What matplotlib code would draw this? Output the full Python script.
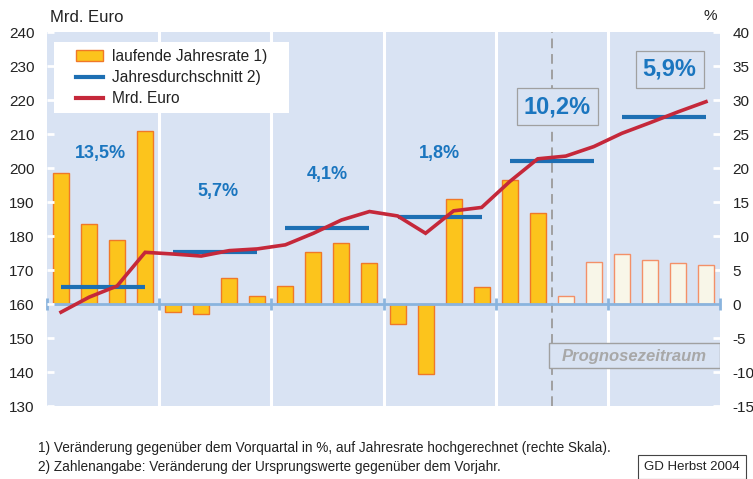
import matplotlib.pyplot as plt
import numpy as np
from matplotlib.patches import Patch, Rectangle
from matplotlib.lines import Line2D

plt.rcParams['font.family'] = ['Liberation Sans', 'DejaVu Sans']
plt.rcParams['axes.unicode_minus'] = False

# Data
years = ['2000', '2001', '2002', '2003', '2004', '2005']
# laufende Jahresrate (%), quarterly, right scale
rate = [19.2, 11.7, 9.4, 25.4,
        -1.2, -1.4, 3.8, 1.2,
        2.6, 7.7, 8.9, 6.0,
        -2.9, -10.3, 15.4, 2.5,
        18.2, 13.4, 1.2, 6.2,
        7.3, 6.5, 6.1, 5.7]
# Mrd. Euro, quarterly, left scale
level = [157.6, 162.0, 165.3, 175.2,
         174.7, 174.1, 175.7, 176.2,
         177.4, 180.8, 184.7, 187.2,
         185.9, 180.8, 187.4, 188.4,
         196.0, 202.7, 203.5, 206.3,
         210.2, 213.3, 216.5, 219.5]
# Jahresdurchschnitt (Mrd. Euro)
avg = [165.1, 175.2, 182.4, 185.6, 202.1, 214.9]
growth = ['13,5%', '5,7%', '4,1%', '1,8%', '10,2%', '5,9%']
n_actual = 18  # quarters with actual values, rest is forecast

bg = '#d9e3f3'
bar_fill = '#fcc41c'
bar_edge = '#f07828'
fc_fill = '#f8f6e8'
fc_edge = '#f39068'
red = '#c5283a'
blue = '#1d6fb3'
txt_blue = '#1b76bf'

fig = plt.figure(figsize=(7.53, 4.79), dpi=100)
ax = fig.add_axes([47 / 753, 1 - 406 / 479, 673 / 753, 374 / 479])
ax2 = ax.twinx()

ax.set_facecolor(bg)
for a in (ax, ax2):
    for s in a.spines.values():
        s.set_visible(False)

nq = len(rate)
xq = np.arange(nq) + 0.5
ax.set_xlim(0, nq)
ax.set_ylim(-15, 40)
ax2.set_ylim(130, 240)

# year separators
for b in range(4, nq, 4):
    ax.axvline(b, color='white', lw=2.2, zorder=1)

# forecast dashed line
ax.axvline(n_actual, color='#a0a0a0', lw=1.4, ls=(0, (5, 3)), zorder=1.5)

# bars
fills = [bar_fill if i < n_actual else fc_fill for i in range(nq)]
edges = [bar_edge if i < n_actual else fc_edge for i in range(nq)]
ax.bar(xq, rate, width=0.57, color=fills, edgecolor=edges, lw=1.0, zorder=3)

# zero line with year marks
ax.axhline(0, color='#8ab4de', lw=2, zorder=4)
bounds = np.arange(0, nq + 1, 4)
ax.plot(bounds, np.zeros(len(bounds)), ls='none', marker='|', ms=8, mew=2,
        color='#8ab4de', zorder=4, clip_on=False)

# Prognosezeitraum box
ax.add_patch(Rectangle(((549 - 47) / 673, (406 - 368) / 374), (720 - 549) / 673, 25 / 374,
                       transform=ax.transAxes, facecolor=bg, edgecolor='#a0a0a0',
                       lw=1.0, zorder=5))
ax.text((634 - 47) / 673, (406 - 356) / 374, 'Prognosezeitraum', transform=ax.transAxes,
        ha='center', va='center', fontsize=12, fontweight='bold', style='italic',
        color='#a8a8a8', zorder=6)

# line + annual averages on left scale
for i in range(len(years)):
    ax2.hlines(avg[i], 4 * i + 0.5, 4 * i + 3.5, color=blue, lw=3, zorder=5)
ax2.plot(xq, level, color=red, lw=2.6, zorder=6, solid_joinstyle='miter')

# growth labels
lab_pos = [(1.9, 204.4), (6.1, 193.0), (10.0, 198.0), (14.0, 204.4), (18.2, 218.0), (22.2, 229.0)]
for i, (g, (x, y)) in enumerate(zip(growth, lab_pos)):
    if i >= 4:
        ax2.text(x, y, g, ha='center', va='center', fontsize=17, fontweight='bold',
                 color=txt_blue, zorder=7,
                 bbox=dict(boxstyle='square,pad=0.3', facecolor=bg, edgecolor='#a0a0a0', lw=0.9))
    else:
        ax2.text(x, y, g, ha='center', va='center', fontsize=13, fontweight='bold',
                 color=txt_blue, zorder=7)

# ticks
ax.yaxis.tick_right()
ax2.yaxis.tick_left()
ax.set_yticks(np.arange(-15, 41, 5))
ax2.set_yticks(np.arange(130, 241, 10))
ax.tick_params(axis='y', direction='in', length=5, width=2, color='white', pad=9,
               labelsize=11, labelcolor='#222222')
ax2.tick_params(axis='y', direction='in', length=5, width=2, color='white', pad=9,
                labelsize=11, labelcolor='#222222')
ax.set_xticks(np.arange(2, nq, 4))
ax.set_xticklabels(years)
ax.tick_params(axis='x', length=0, pad=13, labelsize=11.5, labelcolor='#222222')
ax2.set_xticks([])

# legend (white box drawn separately)
ax2.add_patch(Rectangle(((54 - 47) / 673, (406 - 113) / 374), (289 - 54) / 673, 71 / 374,
                        transform=ax2.transAxes, facecolor='white', edgecolor='none', zorder=8))
handles = [Patch(facecolor=bar_fill, edgecolor=bar_edge, lw=1.0),
           Line2D([], [], color=blue, lw=3),
           Line2D([], [], color=red, lw=3)]
labels = ['laufende Jahresrate 1)', 'Jahresdurchschnitt 2)', 'Mrd. Euro']
leg = ax2.legend(handles, labels, loc='upper left', bbox_to_anchor=((76 - 47) / 673, (406 - 49) / 374),
                 fontsize=11.2, frameon=False, borderpad=0, labelspacing=0.4, handlelength=1.75,
                 handletextpad=0.55, borderaxespad=0)
leg.set_zorder(9)
for t in leg.get_texts():
    t.set_color('#222222')

# axis titles
fig.text(50 / 753, 1 - 17 / 479, 'Mrd. Euro', ha='left', va='center', fontsize=12, color='#222222')
fig.text(710 / 753, 1 - 16 / 479, '%', ha='center', va='center', fontsize=11, color='#222222')

# footnotes
fig.text(38 / 753, 1 - 448 / 479,
         '1) Veränderung gegenüber dem Vorquartal in %, auf Jahresrate hochgerechnet (rechte Skala).',
         ha='left', va='center', fontsize=9.8, color='#222222')
fig.text(38 / 753, 1 - 467 / 479,
         '2) Zahlenangabe: Veränderung der Ursprungswerte gegenüber dem Vorjahr.',
         ha='left', va='center', fontsize=9.8, color='#222222')
fig.text(692 / 753, 1 - 467 / 479, 'GD Herbst 2004', ha='center', va='center', fontsize=9.5,
         color='#222222',
         bbox=dict(boxstyle='square,pad=0.45', facecolor='white', edgecolor='#444444', lw=0.8))

fig.savefig('out.png', dpi=100)
